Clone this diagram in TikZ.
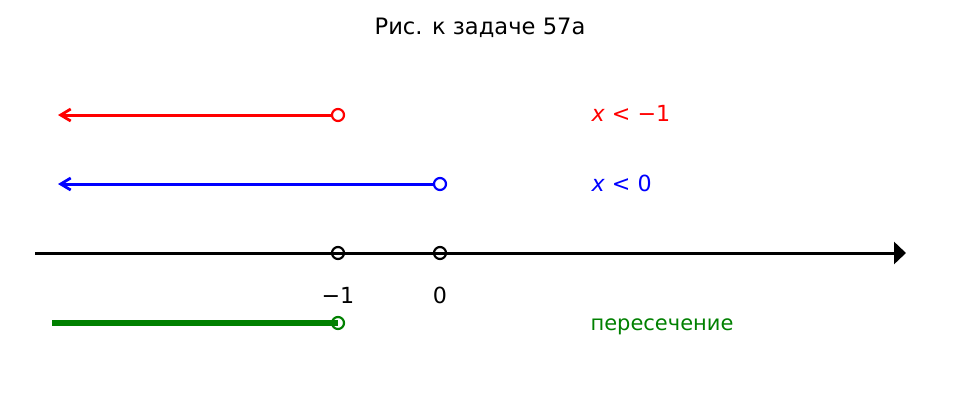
\documentclass[tikz,border=0pt]{standalone}
\usepackage{fontspec}
\setmainfont{DejaVu Sans}
\usetikzlibrary{arrows.meta,positioning}
\definecolor{rayred}{HTML}{FF0000}
\definecolor{rayblue}{HTML}{0000FF}
\definecolor{cutgreen}{HTML}{008000}
\tikzset{
    axisline/.style={draw=black,line width=3pt,
      -{Triangle[length=12pt,width=22pt]}},
    rayline/.style={line width=3pt,
      -{Straight Barb[length=10pt,width=12pt,line width=2.8pt]}},
    cutline/.style={draw=cutgreen,line width=6.5pt},
    opendot/.style={circle,draw,line width=2.2pt,minimum size=12pt,inner sep=0pt},
    ticklabel/.style={anchor=base,font=\fontsize{22.2}{26}\selectfont},
    condlabel/.style={anchor=base west,font=\fontsize{22.2}{26}\selectfont}
}
\begin{document}
\begin{tikzpicture}[x=1pt,y=-1pt]
  \useasboundingbox (0,0) rectangle (959,407);
  \node[anchor=base,font=\fontsize{22.6}{27}\selectfont] (title) at (480,34) {Рис. к задаче 57а};
  % number line
  \coordinate (axstart) at (35,253);
  \coordinate (axend) at (906,253);
  \draw[axisline] (axstart) -- (axend);
  \node[opendot] (pm1) at (338,253) {};
  \node[opendot] (p0) at (440,253) {};
  \node[ticklabel] (lm1) at (338,303) {−1};
  \node[ticklabel] (l0) at (440,303) {0};
  % x < -1
  \coordinate (redtip) at (58,115);
  \node[opendot,draw=rayred,fill=white] (redend) at (338,115) {};
  \draw[rayline,rayred] (redend) -- (redtip);
  \node[condlabel,text=rayred] (redlabel) at (588,121) {\textit{x} < −1};
  % x < 0
  \coordinate (bluetip) at (58,184);
  \node[opendot,draw=rayblue,fill=white] (blueend) at (440,184) {};
  \draw[rayline,rayblue] (blueend) -- (bluetip);
  \node[condlabel,text=rayblue] (bluelabel) at (588,191) {\textit{x} < 0};
  % intersection
  \coordinate (greenstart) at (52,323);
  \node[opendot,draw=cutgreen] (greenend) at (338,323) {};
  \draw[cutline] (greenstart) -- (greenend.center);
  \node[condlabel,text=cutgreen,font=\fontsize{21}{25}\selectfont] (greenlabel) at (587,330) {пересечение};
\end{tikzpicture}
\end{document}
